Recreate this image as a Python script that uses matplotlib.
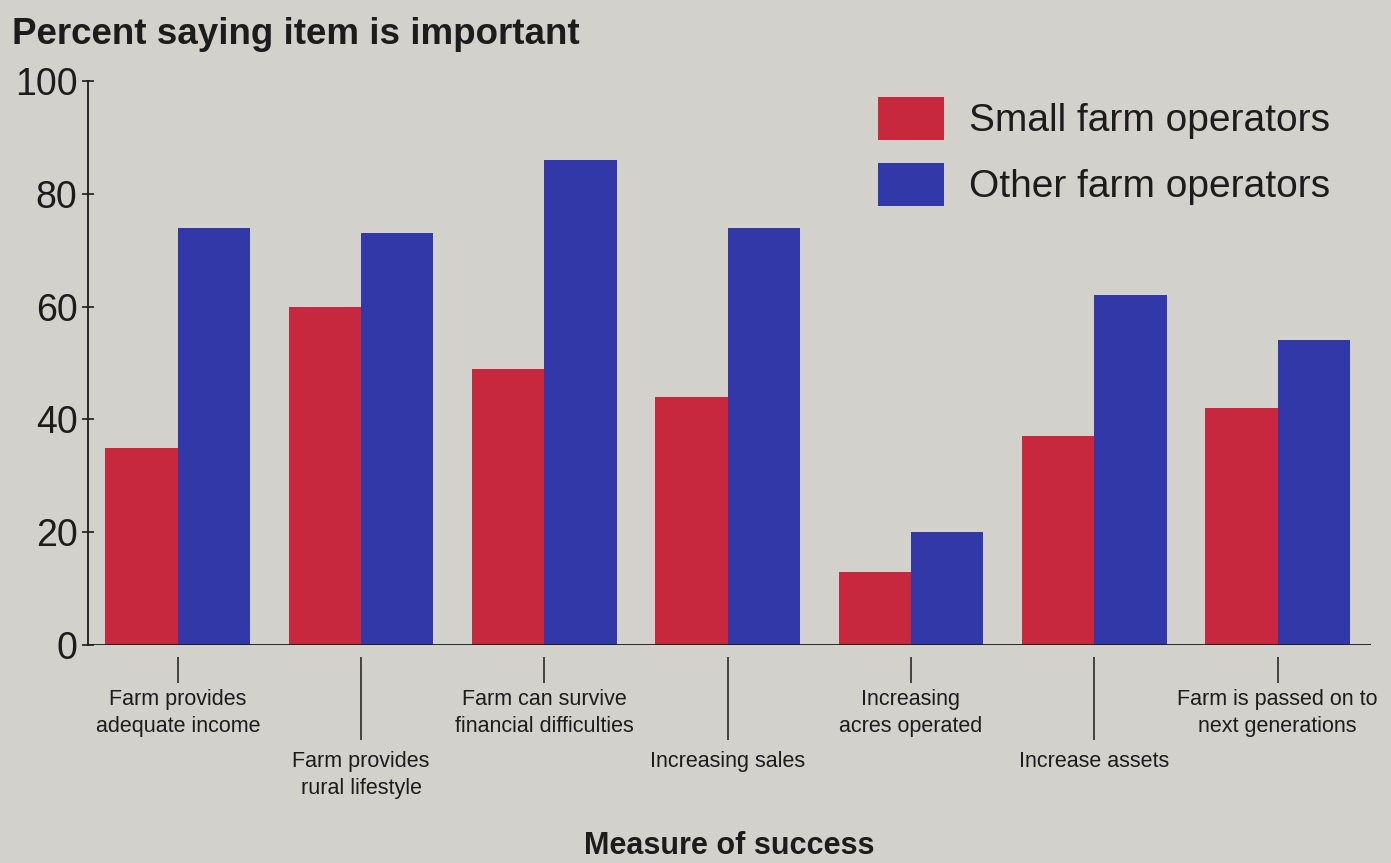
import matplotlib
matplotlib.use("Agg")
import matplotlib.pyplot as plt
from matplotlib.patches import Patch
import numpy as np

categories = [
    "Farm provides\nadequate income",
    "Farm provides\nrural lifestyle",
    "Farm can survive\nfinancial difficulties",
    "Increasing sales",
    "Increasing\nacres operated",
    "Increase assets",
    "Farm is passed on to\nnext generations",
]
small_farm = [35, 60, 49, 44, 13, 37, 42]
other_farm = [74, 73, 86, 74, 20, 62, 54]
series_names = ["Small farm operators", "Other farm operators"]
y_ticks = [0, 20, 40, 60, 80, 100]

BG = "#d3d1cc"
RED = "#c8283e"
BLUE = "#3338a8"
INK = "#1c1c1c"
FONT = "Liberation Sans"

plt.rcParams["font.family"] = [FONT, "DejaVu Sans"]

fig = plt.figure(figsize=(13.91, 8.63), dpi=100, facecolor=BG)
ax = fig.add_axes([88/1391, 1-645/863, (1371-88)/1391, (645-81)/863])
ax.set_facecolor(BG)

x = np.arange(len(categories))
w = 0.395
ax.bar(x - w/2, small_farm, width=w, color=RED, zorder=2, label=series_names[0])
ax.bar(x + w/2, other_farm, width=w, color=BLUE, zorder=2, label=series_names[1])
ax.axhline(0, color=INK, lw=1.3, zorder=3)

ax.set_xlim(-0.49, 6.51)
ax.set_ylim(0, 100)

for s in ["top", "right"]:
    ax.spines[s].set_visible(False)
ax.spines["left"].set_color(INK)
ax.spines["left"].set_linewidth(1.3)
ax.spines["bottom"].set_visible(False)
ax.spines["bottom"].set_position(("outward", 8.5))

ax.set_yticks(y_ticks)
ax.set_yticklabels([str(v) for v in y_ticks], fontsize=27, color=INK)
ax.tick_params(axis="y", direction="inout", length=9, width=1.2, color=INK, pad=3)

major = x[0::2]
minor = x[1::2]
ax.set_xticks(major)
ax.set_xticklabels([categories[i] for i in major], fontsize=15.5, color=INK, linespacing=1.38)
ax.set_xticks(minor, minor=True)
ax.set_xticklabels([categories[i] for i in minor], minor=True, fontsize=15.5, color=INK, linespacing=1.38)
ax.tick_params(axis="x", which="major", direction="out", length=19, width=1.1, color=INK, pad=4)
ax.tick_params(axis="x", which="minor", direction="out", length=60, width=1.1, color=INK, pad=7.5)

fig.text(12/1391, 1-34/863, "Percent saying item is important", fontsize=26.5, fontweight="bold",
         color=INK, ha="left", va="center")
fig.text(729/1391, 1-846/863, "Measure of success", fontsize=22, fontweight="bold",
         color=INK, ha="center", va="center")

handles = [Patch(facecolor=RED), Patch(facecolor=BLUE)]
leg = ax.legend(handles, series_names, loc="upper left", bbox_to_anchor=(870/1391, 1-89/863),
                bbox_transform=fig.transFigure, frameon=False, fontsize=28,
                handlelength=1.7, handleheight=1.32, handletextpad=0.64, labelspacing=0.6,
                borderaxespad=0, borderpad=0.2)
for t in leg.get_texts():
    t.set_color(INK)

fig.savefig("out.png", dpi=100, facecolor=BG)
